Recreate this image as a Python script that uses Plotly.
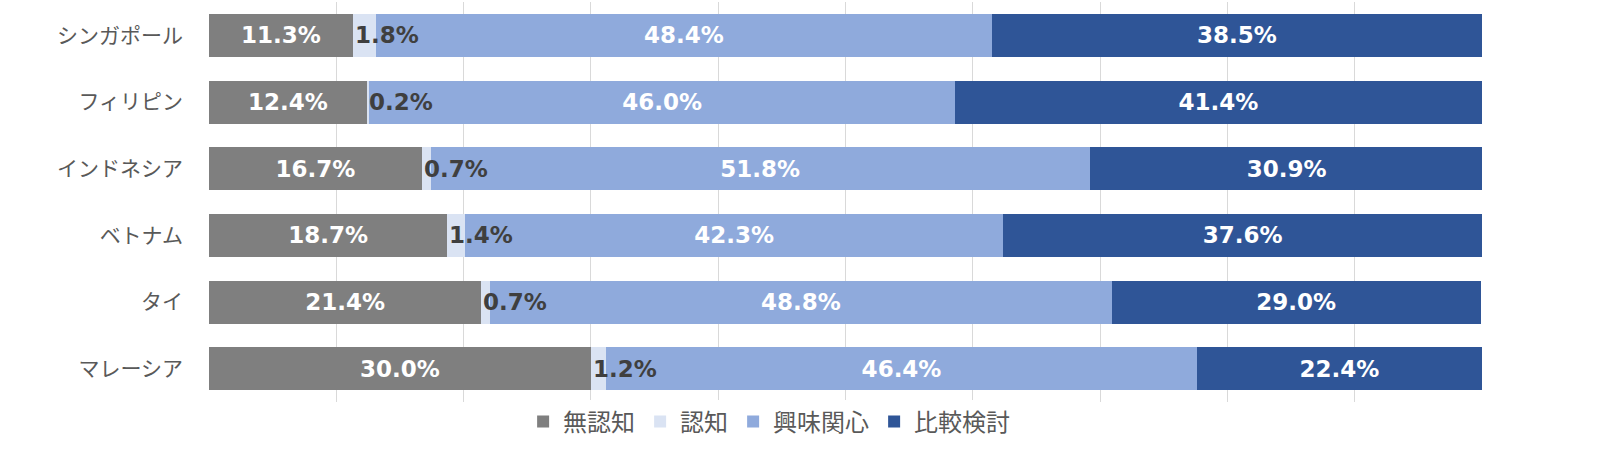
import plotly.graph_objects as go

countries = ["シンガポール", "フィリピン", "インドネシア", "ベトナム", "タイ", "マレーシア"]
series_names = ["無認知", "認知", "興味関心", "比較検討"]
unaware = [11.3, 12.4, 16.7, 18.7, 21.4, 30.0]
aware = [1.8, 0.2, 0.7, 1.4, 0.7, 1.2]
interest = [48.4, 46.0, 51.8, 42.3, 48.8, 46.4]
compare = [38.5, 41.4, 30.9, 37.6, 29.0, 22.4]
colors = ["#7f7f7f", "#dae3f3", "#8faadc", "#2f5597"]

cjk_font = "Noto Sans CJK JP"
num_font = "DejaVu Sans"
fig = go.Figure()
values = [unaware, aware, interest, compare]
for name, vals, col in zip(series_names, values, colors):
    show_text = name != "認知"
    fig.add_trace(go.Bar(
        y=countries, x=vals, name=name, orientation="h",
        marker=dict(color=col, line=dict(width=0)),
        text=[f"{v:.1f}%" for v in vals] if show_text else None,
        textposition="inside" if show_text else "none",
        insidetextanchor="middle",
        textfont=dict(color="white", size=23, family=num_font, weight="bold"),
        hoverinfo="x+y+name",
    ))

for c, u, a in zip(countries, unaware, aware):
    fig.add_annotation(
        x=u, y=c, xref="x", yref="y", text=f"{a:.1f}%", showarrow=False,
        xanchor="left", yanchor="middle", xshift=0,
        font=dict(color="#3f3f3f", size=23, family=num_font, weight="bold"),
    )

fig.update_layout(
    barmode="stack",
    bargap=0.355,
    width=1600, height=454,
    margin=dict(l=209, r=118, t=2, b=52, pad=0),
    plot_bgcolor="white", paper_bgcolor="white",
    uniformtext=dict(minsize=10, mode="show"),
    font=dict(family=cjk_font, color="#595959"),
    legend=dict(
        orientation="h", x=0.44, xanchor="center", y=-0.05, yanchor="middle",
        font=dict(size=24, color="#595959", family=cjk_font),
        traceorder="normal", itemwidth=30,
    ),
    xaxis=dict(
        range=[0, 100], dtick=10, showticklabels=False, showgrid=True,
        gridcolor="#d9d9d9", gridwidth=1, zeroline=False, showline=False,
        ticks="",
    ),
    yaxis=dict(
        autorange="reversed", tickfont=dict(size=21, color="#595959", family=cjk_font),
        showgrid=False, zeroline=False, ticks="", ticklabelstandoff=25,
    ),
)

fig.write_html("out.html", config={"displayModeBar": False},
               post_script="document.body.style.margin='0';")
